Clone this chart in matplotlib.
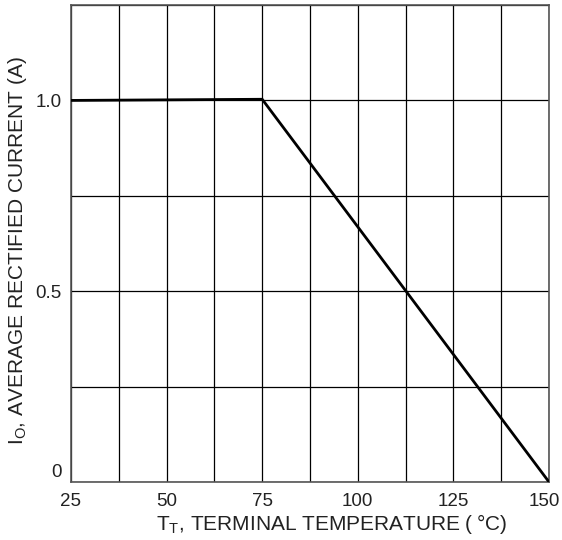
import matplotlib.pyplot as plt
import matplotlib.transforms as mtransforms
import numpy as np

plt.rcParams['font.family'] = ['Liberation Sans', 'DejaVu Sans']

# derating curve
temp = [25, 75, 150]
current = [1.0, 1.003, 0.0]

x_ticks = [25, 50, 75, 100, 125, 150]
y_ticks = [0, 0.5, 1.0]
y_tick_labels = ["0", "0.5", "1.0"]

fig = plt.figure(figsize=(5.62, 5.4), dpi=100)
ax = fig.add_axes([0.1263, 0.1074, 0.8506, 0.8833])

ax.set_xlim(25, 150)
ax.set_ylim(0, 1.25)

# grid: 10 columns, 5 rows
for gx in np.arange(25, 150.1, 12.5):
    ax.axvline(gx, color="black", lw=0.9, zorder=1)
for gy in np.arange(0, 1.26, 0.25):
    ax.axhline(gy, color="black", lw=0.9, zorder=1)

ax.plot(temp, current, color="black", lw=2.0, zorder=3)

ax.set_xticks(x_ticks)
ax.set_yticks(y_ticks)
ax.set_yticklabels(y_tick_labels)
ax.tick_params(length=0, labelsize=13.5, colors="#222222")
ax.tick_params(axis="x", pad=8)
ax.tick_params(axis="y", pad=7)

# "0" sits just above the bottom edge, "150" pulled in from the right edge
ylab0 = ax.get_yticklabels()[0]
ylab0.set_va("bottom")
ylab0.set_transform(ylab0.get_transform() + mtransforms.ScaledTranslation(0, 0.01, fig.dpi_scale_trans))
xlab_last = ax.get_xticklabels()[-1]
xlab_last.set_transform(xlab_last.get_transform() + mtransforms.ScaledTranslation(-0.05, 0, fig.dpi_scale_trans))

for s in ax.spines.values():
    s.set_color("#555555")
    s.set_linewidth(1.2)

ax.set_xlabel(r"T$_\mathregular{T}$, TERMINAL TEMPERATURE (" + "\u2009\u00b0C)", fontsize=15, color="#222222")
ax.set_ylabel(r"I$_\mathregular{O}$, AVERAGE RECTIFIED CURRENT (A)", fontsize=15, color="#222222")
ax.xaxis.set_label_coords(0.546, -0.087)
ax.xaxis.label.set_va("center")
ax.yaxis.set_label_coords(-0.111, 0.486)
ax.yaxis.label.set_va("center")

fig.savefig("out.png", dpi=100)
